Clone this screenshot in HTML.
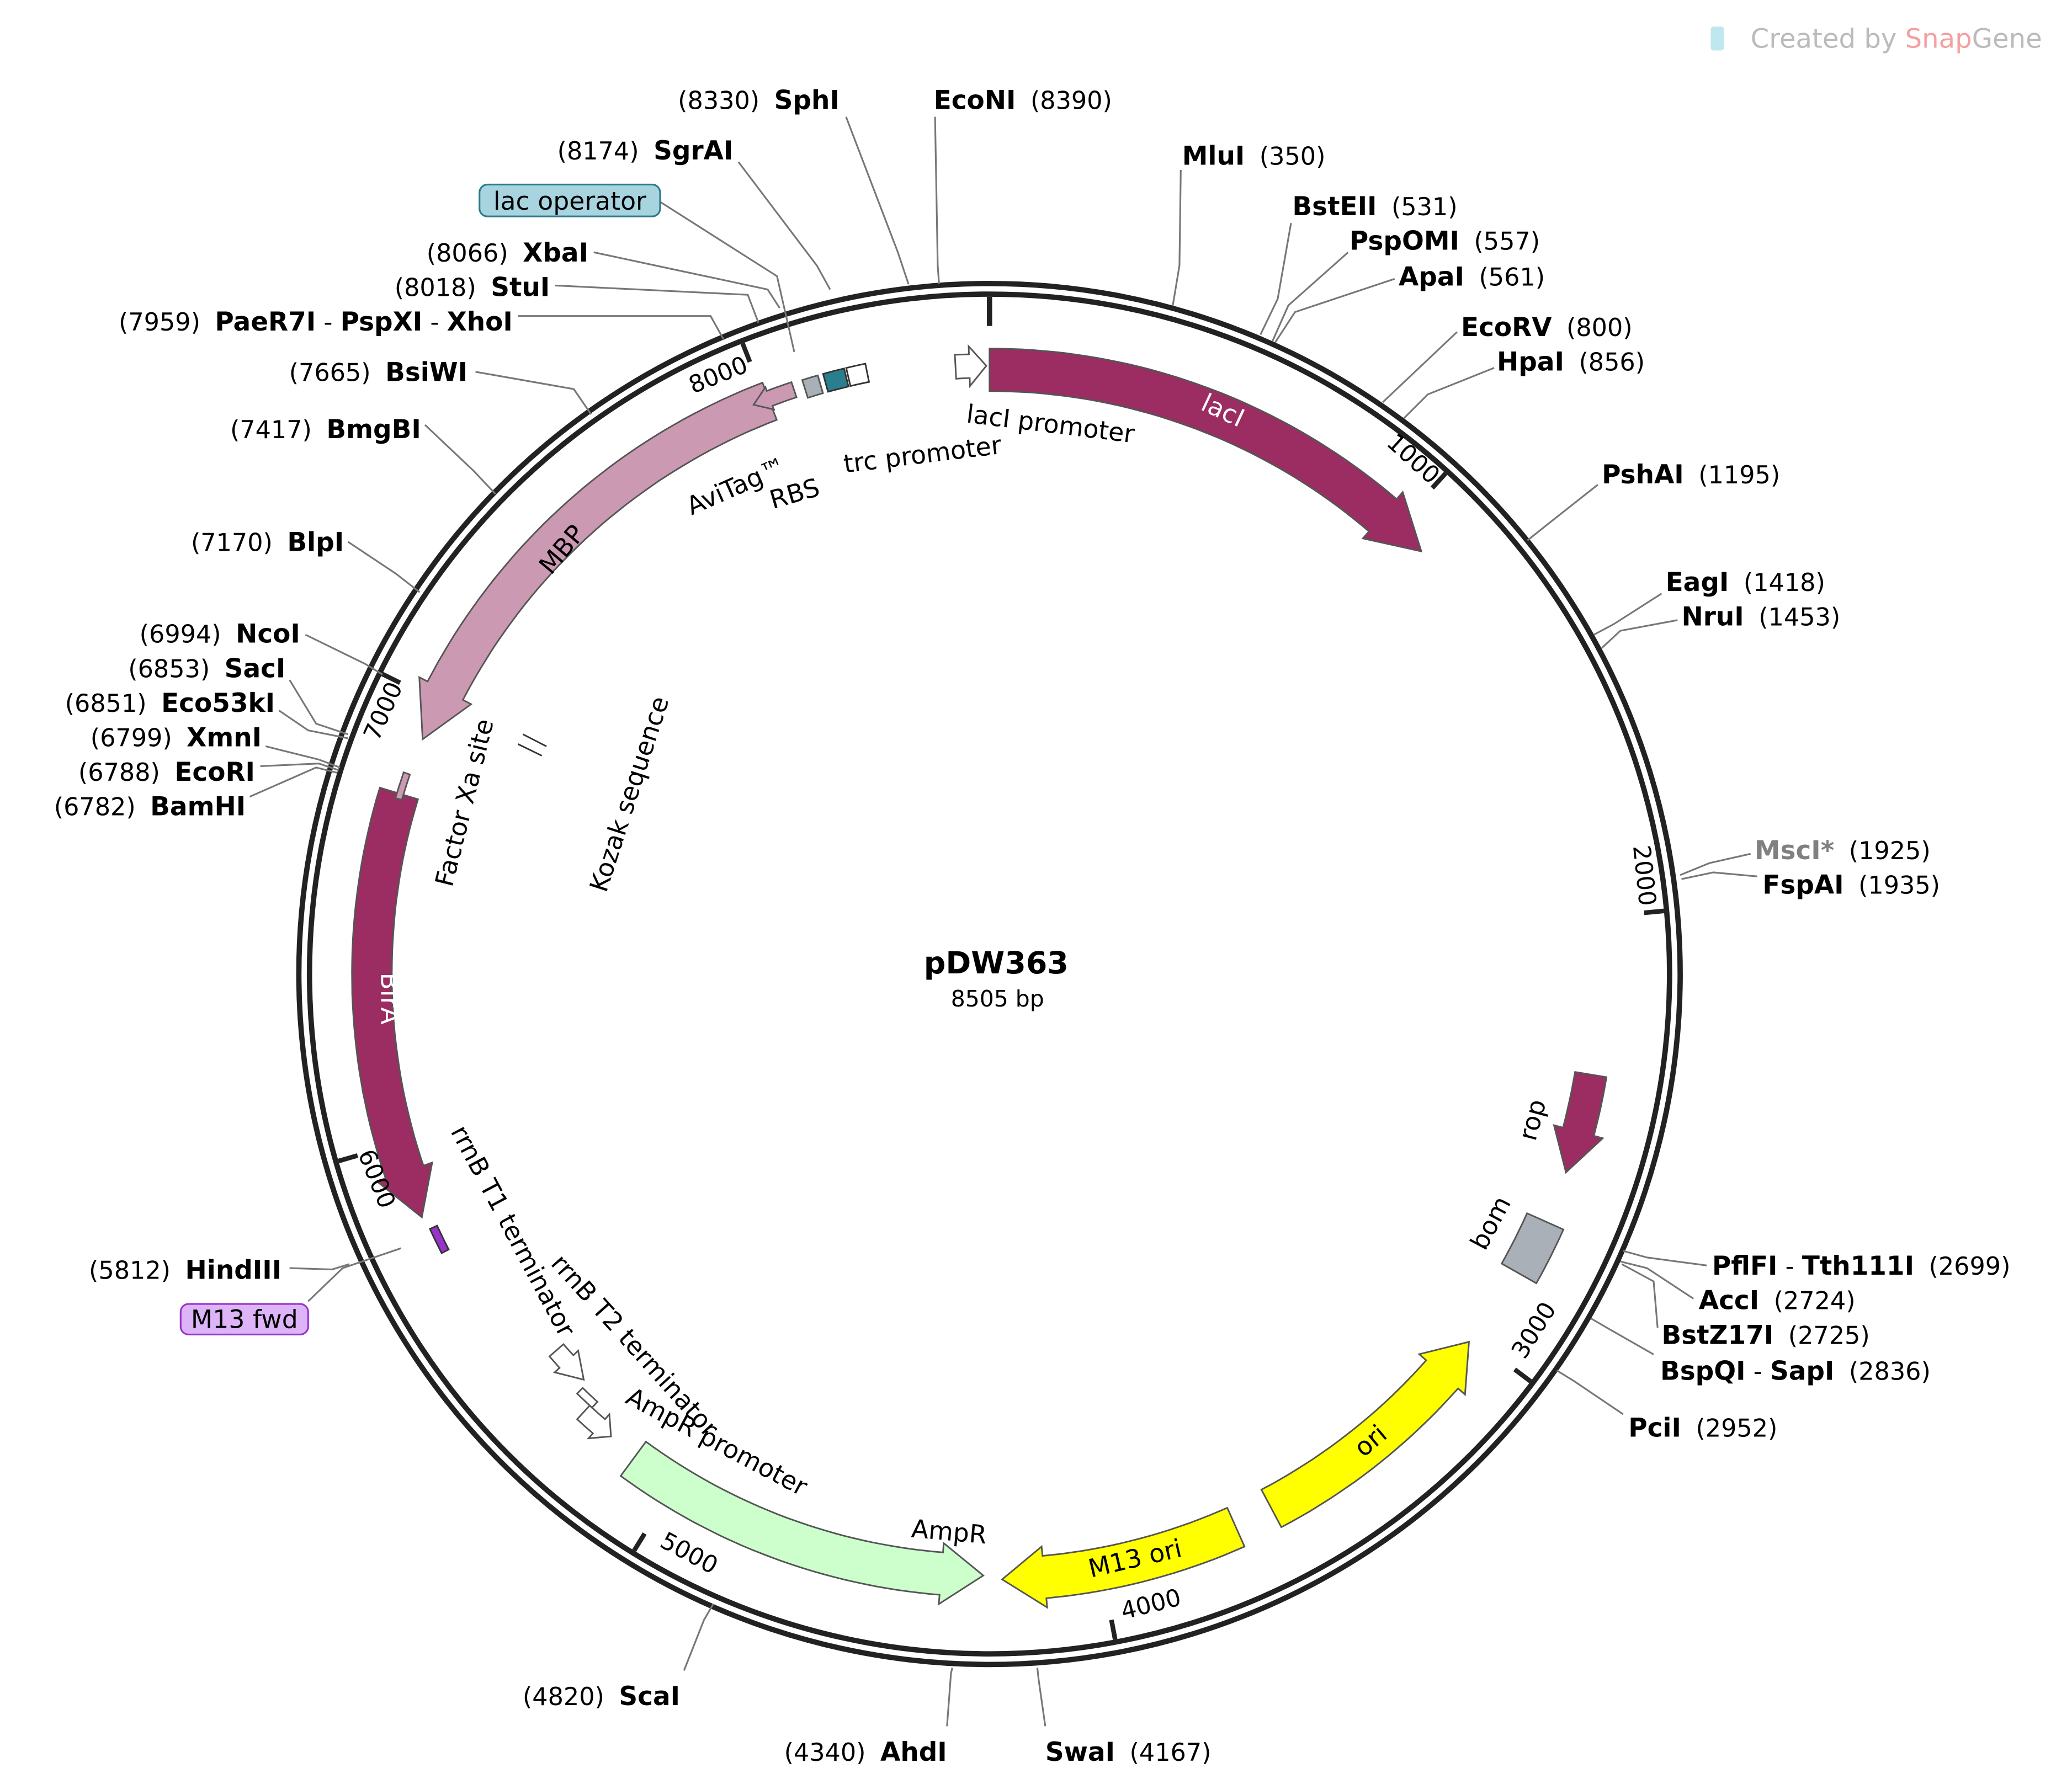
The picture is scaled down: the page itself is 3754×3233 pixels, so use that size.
<!DOCTYPE html>
<html><head><meta charset="utf-8"><style>
html,body{margin:0;padding:0;background:#fff;}
svg{display:block;}
text{font-family:"DejaVu Sans","Liberation Sans",sans-serif;}
.n{font-weight:bold;font-size:19.5px;fill:#000;}
.p{font-size:18.5px;fill:#000;}
.f{font-size:19px;fill:#000;}
.l{fill:none;stroke:#777;stroke-width:1.3;}
</style></head><body>
<svg id="s" width="3754" height="3233" viewBox="0 0 1560 1343.5" xmlns="http://www.w3.org/2000/svg">
<rect width="1560" height="1344" fill="#fff"/>
<g id="shapes"></g>
<text x="1318" y="36" font-size="20" fill="#bbb">Created by <tspan fill="#f4a0a0">Snap</tspan><tspan fill="#bbb">Gene</tspan></text>
<rect x="1288" y="20" width="10" height="18" rx="2" fill="#bfe8ee"/>
<g class="l">
<polyline points="637,88 676,190 684,214"/>
<polyline points="704,88 706,200 707,214"/>
<polyline points="556,122 615,200 625,218"/>
<polyline points="497,152 585,208 598,265"/>
<polyline points="447,190 578,218 587,232"/>
<polyline points="418,215 563,222 571,243"/>
<polyline points="390,238 535,238 545,256"/>
<polyline points="358,280 432,293 445,312"/>
<polyline points="320,320 357,355 373,372"/>
<polyline points="262,408 298,432 316,446"/>
<polyline points="230,478 275,500 288,508"/>
<polyline points="218,512 238,545 262,553"/>
<polyline points="210,535 232,550 262,556"/>
<polyline points="200,562 240,572 256,578"/>
<polyline points="196,577 240,575 255,580"/>
<polyline points="188,600 238,578 254,582"/>
<polyline points="218,955 250,956 263,952"/>
<polyline points="232,980 258,955 302,940"/>
<polyline points="515,1258 530,1220 537,1208"/>
<polyline points="713,1300 716,1260 717,1256"/>
<polyline points="787,1300 782,1265 781,1256"/>
<polyline points="889,128 888,200 883,230"/>
<polyline points="972,168 962,225 949,252"/>
<polyline points="1015,190 970,230 958,257"/>
<polyline points="1050,210 975,235 960,258"/>
<polyline points="1097,250 1060,285 1041,303"/>
<polyline points="1125,277 1075,297 1057,315"/>
<polyline points="1203,365 1165,395 1150,407"/>
<polyline points="1251,447 1215,470 1200,478"/>
<polyline points="1263,467 1220,475 1206,488"/>
<polyline points="1318,643 1287,650 1265,659"/>
<polyline points="1323,660 1290,657 1266,662"/>
<polyline points="1285,953 1240,947 1222,942"/>
<polyline points="1275,978 1240,955 1220,950"/>
<polyline points="1248,1000 1245,965 1221,952"/>
<polyline points="1245,1020 1210,1000 1198,993"/>
<polyline points="1222,1065 1185,1040 1172,1032"/>
</g>
<text x="632" y="82" text-anchor="end"><tspan class="p">(8330)</tspan><tspan class="n" dx="11">SphI</tspan></text>
<text x="703" y="82"><tspan class="n">EcoNI</tspan><tspan class="p" dx="11">(8390)</tspan></text>
<text x="552" y="120" text-anchor="end"><tspan class="p">(8174)</tspan><tspan class="n" dx="11">SgrAI</tspan></text>
<rect x="361" y="139" width="136" height="24" rx="6" fill="#a8d4e0" stroke="#2a7a8a" stroke-width="1.3"/>
<text x="429" y="158" text-anchor="middle" class="f">lac operator</text>
<text x="443" y="197" text-anchor="end"><tspan class="p">(8066)</tspan><tspan class="n" dx="11">XbaI</tspan></text>
<text x="414" y="223" text-anchor="end"><tspan class="p">(8018)</tspan><tspan class="n" dx="11">StuI</tspan></text>
<text x="386" y="249" text-anchor="end"><tspan class="p">(7959)</tspan><tspan class="n" dx="11">PaeR7I</tspan><tspan class="p"> - </tspan><tspan class="n">PspXI</tspan><tspan class="p"> - </tspan><tspan class="n">XhoI</tspan></text>
<text x="352" y="287" text-anchor="end"><tspan class="p">(7665)</tspan><tspan class="n" dx="11">BsiWI</tspan></text>
<text x="317" y="330" text-anchor="end"><tspan class="p">(7417)</tspan><tspan class="n" dx="11">BmgBI</tspan></text>
<text x="259" y="415" text-anchor="end"><tspan class="p">(7170)</tspan><tspan class="n" dx="11">BlpI</tspan></text>
<text x="226" y="484" text-anchor="end"><tspan class="p">(6994)</tspan><tspan class="n" dx="11">NcoI</tspan></text>
<text x="215" y="510" text-anchor="end"><tspan class="p">(6853)</tspan><tspan class="n" dx="11">SacI</tspan></text>
<text x="207" y="536" text-anchor="end"><tspan class="p">(6851)</tspan><tspan class="n" dx="11">Eco53kI</tspan></text>
<text x="197" y="562" text-anchor="end"><tspan class="p">(6799)</tspan><tspan class="n" dx="11">XmnI</tspan></text>
<text x="192" y="588" text-anchor="end"><tspan class="p">(6788)</tspan><tspan class="n" dx="11">EcoRI</tspan></text>
<text x="185" y="614" text-anchor="end"><tspan class="p">(6782)</tspan><tspan class="n" dx="11">BamHI</tspan></text>
<text x="212" y="963" text-anchor="end"><tspan class="p">(5812)</tspan><tspan class="n" dx="11">HindIII</tspan></text>
<rect x="136" y="982" width="96" height="23" rx="6" fill="#dcb4f7" stroke="#9933cc" stroke-width="1.3"/>
<text x="184" y="1000" text-anchor="middle" class="f">M13 fwd</text>
<text x="512" y="1284" text-anchor="end"><tspan class="p">(4820)</tspan><tspan class="n" dx="11">ScaI</tspan></text>
<text x="713" y="1326" text-anchor="end"><tspan class="p">(4340)</tspan><tspan class="n" dx="11">AhdI</tspan></text>
<text x="787" y="1326"><tspan class="n">SwaI</tspan><tspan class="p" dx="11">(4167)</tspan></text>
<text x="890" y="124"><tspan class="n">MluI</tspan><tspan class="p" dx="11">(350)</tspan></text>
<text x="973" y="162"><tspan class="n">BstEII</tspan><tspan class="p" dx="11">(531)</tspan></text>
<text x="1016" y="188"><tspan class="n">PspOMI</tspan><tspan class="p" dx="11">(557)</tspan></text>
<text x="1053" y="215"><tspan class="n">ApaI</tspan><tspan class="p" dx="11">(561)</tspan></text>
<text x="1100" y="253"><tspan class="n">EcoRV</tspan><tspan class="p" dx="11">(800)</tspan></text>
<text x="1127" y="279"><tspan class="n">HpaI</tspan><tspan class="p" dx="11">(856)</tspan></text>
<text x="1206" y="364"><tspan class="n">PshAI</tspan><tspan class="p" dx="11">(1195)</tspan></text>
<text x="1254" y="445"><tspan class="n">EagI</tspan><tspan class="p" dx="11">(1418)</tspan></text>
<text x="1266" y="471"><tspan class="n">NruI</tspan><tspan class="p" dx="11">(1453)</tspan></text>
<text x="1321" y="647"><tspan class="n" style="fill:#808080">MscI*</tspan><tspan class="p" dx="11">(1925)</tspan></text>
<text x="1327" y="673"><tspan class="n">FspAI</tspan><tspan class="p" dx="11">(1935)</tspan></text>
<text x="1289" y="960"><tspan class="n">PflFI</tspan><tspan class="p"> - </tspan><tspan class="n">Tth111I</tspan><tspan class="p" dx="11">(2699)</tspan></text>
<text x="1279" y="986"><tspan class="n">AccI</tspan><tspan class="p" dx="11">(2724)</tspan></text>
<text x="1251" y="1012"><tspan class="n">BstZ17I</tspan><tspan class="p" dx="11">(2725)</tspan></text>
<text x="1250" y="1039"><tspan class="n">BspQI</tspan><tspan class="p"> - </tspan><tspan class="n">SapI</tspan><tspan class="p" dx="11">(2836)</tspan></text>
<text x="1226" y="1082"><tspan class="n">PciI</tspan><tspan class="p" dx="11">(2952)</tspan></text>
<text x="750" y="733" text-anchor="middle" font-size="23" font-weight="bold">pDW363</text>
<text x="751" y="758" text-anchor="middle" font-size="17">8505 bp</text>
<g font-size="18">
<text transform="translate(1060,350) rotate(42)" text-anchor="middle">1000</text>
<text transform="translate(1232,660) rotate(84)" text-anchor="middle">2000</text>
<text transform="translate(1160,1005) rotate(-58)" text-anchor="middle">3000</text>
<text transform="translate(868,1214) rotate(-14)" text-anchor="middle">4000</text>
<text transform="translate(516,1175) rotate(28)" text-anchor="middle">5000</text>
<text transform="translate(278,890) rotate(68)" text-anchor="middle">6000</text>
<text transform="translate(294,538) rotate(-66)" text-anchor="middle">7000</text>
<text transform="translate(543,288) rotate(-22)" text-anchor="middle">8000</text>
</g>
<text class="f" transform="translate(727,318) rotate(7)">lacI promoter</text>
<text class="f" transform="translate(918,315) rotate(25)" text-anchor="middle" style="fill:#fff">lacI</text>
<text class="f" transform="translate(636,356) rotate(-7)">trc promoter</text>
<text class="f" transform="translate(600,378) rotate(-16)" text-anchor="middle">RBS</text>
<text class="f" transform="translate(557,372) rotate(-24)" text-anchor="middle">AviTag™</text>
<text class="f" transform="translate(428,418) rotate(-50)" text-anchor="middle">MBP</text>
<text class="f" transform="translate(356,606) rotate(-76)" text-anchor="middle">Factor Xa site</text>
<text class="f" transform="translate(480,600) rotate(-72)" text-anchor="middle">Kozak sequence</text>
<text class="f" transform="translate(287,752) rotate(90)" text-anchor="middle" style="fill:#fff">BirA</text>
<text class="f" transform="translate(339,852) rotate(62)">rrnB T1 terminator</text>
<text class="f" transform="translate(414,952) rotate(48)">rrnB T2 terminator</text>
<text class="f" transform="translate(470,1056) rotate(28)">AmpR promoter</text>
<text class="f" transform="translate(714,1160) rotate(5)" text-anchor="middle">AmpR</text>
<text class="f" transform="translate(856,1180) rotate(-13)" text-anchor="middle">M13 ori</text>
<text class="f" transform="translate(1036,1090) rotate(-40)" text-anchor="middle">ori</text>
<text class="f" transform="translate(1160,845) rotate(-75)" text-anchor="middle">rop</text>
<text class="f" transform="translate(1128,924) rotate(-62)" text-anchor="middle">bom</text>
</svg>
<script>
(function(){
var cx=745,cy=733.5,NS="http://www.w3.org/2000/svg",g=document.getElementById("shapes");
function pt(r,a){var t=a*Math.PI/180;return [cx+r*Math.sin(t),cy-r*Math.cos(t)];}
function el(n,at){var e=document.createElementNS(NS,n);for(var k in at)e.setAttribute(k,at[k]);g.appendChild(e);return e;}
function arc(r,a1,a2){var o=[],n=Math.max(2,Math.ceil(Math.abs(a2-a1)/1));for(var i=0;i<=n;i++)o.push(pt(r,a1+(a2-a1)*i/n));return o;}
function poly(p,fill,stroke,sw){el("polygon",{points:p.map(function(q){return q[0].toFixed(1)+","+q[1].toFixed(1)}).join(" "),fill:fill,stroke:stroke||"#444","stroke-width":sw||1.2});}
function arrow(r,w,a1,a2,head,hw,fill,stroke){var d=a2>a1?1:-1,hb=a2-d*head;var p=arc(r+w/2,a1,hb);p.push(pt(r+w/2+hw,hb));p.push(pt(r,a2));p.push(pt(r-w/2-hw,hb));p=p.concat(arc(r-w/2,hb,a1));poly(p,fill,stroke);}
function box(r,w,a1,a2,fill,stroke){var p=arc(r+w/2,a1,a2).concat(arc(r-w/2,a2,a1));poly(p,fill,stroke);}
el("circle",{cx:cx,cy:cy,r:520,fill:"none",stroke:"#222","stroke-width":4});
el("circle",{cx:cx,cy:cy,r:512,fill:"none",stroke:"#222","stroke-width":4});
[0,1000,2000,3000,4000,5000,6000,7000,8000].forEach(function(b){var a=b/8505*360;var p1=pt(510,a),p2=pt(b==0?488:495,a);el("line",{x1:p1[0],y1:p1[1],x2:p2[0],y2:p2[1],stroke:"#222","stroke-width":b==0?4:3.5});});
arrow(455,32,0,45.6,5,7,"#9b2d62","#555");
arrow(462,30,339,292.5,5,7,"#cc99b3","#555");
arrow(464,12,341.5,337.5,1.6,3,"#cc99b3","#555");
box(462,14,342.5,344,"#aab0b8","#555");
box(462,14,344.5,346.5,"#2a7f8f","#333");
box(462,14,346.7,348.5,"#fff","#333");
arrow(465,30,287,246.8,4.5,7,"#9b2d62","#555");
box(464,5,289,286.5,"#cc99b3","#555");
box(460,6,245.5,243,"#9933cc","#333");
arrow(453,32,216.3,180.6,4,7,"#ccffcc","#555");
arrow(456,32,156,178.8,4,7,"#ffff00","#555");
arrow(455,32,152.2,127.5,4,7,"#ffff00","#555");
arrow(459,24,99.5,109,4,7,"#9b2d62","#555");
box(458,30,114,119.5,"#aab0b8","#555");
arrow(458,18,-3.2,-0.3,1.6,6,"#fff","#555");
arrow(432,14,229,225,2.5,5,"#fff","#555");
arrow(450,14,222.8,219.3,1.5,5,"#fff","#555");
box(440,6,224.5,222.5,"#fff","#555");
var k1=pt(395,296),k2=pt(395,297.2),k3=pt(375,296),k4=pt(375,297.2);
el("line",{x1:k1[0],y1:k1[1],x2:k3[0],y2:k3[1],stroke:"#333","stroke-width":1.2});
el("line",{x1:k2[0],y1:k2[1],x2:k4[0],y2:k4[1],stroke:"#333","stroke-width":1.2});
})();
</script>
</body></html>
